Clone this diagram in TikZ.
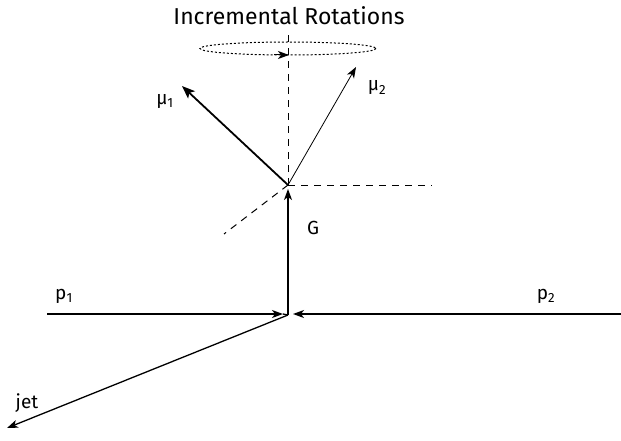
\documentclass[tikz,border=0pt]{standalone}
\usepackage{fontspec}
\setmainfont{Fira Sans}
\usetikzlibrary{arrows.meta}
\begin{document}
\begin{tikzpicture}[x=1pt,y=-1pt,
  vec/.style={line width=1.3pt,-{Stealth[length=11pt,width=8pt,inset=3pt]}},
  thinvec/.style={line width=0.8pt,-{Stealth[length=11pt,width=8pt,inset=3pt]}},
  thickvec/.style={line width=1.8pt,-{Stealth[length=13pt,width=10pt,inset=3pt]}},
  dashline/.style={line width=1pt,dash pattern=on 7pt off 6pt},
  lab/.style={font=\fontsize{19}{22}\selectfont, inner sep=0pt}]
\useasboundingbox (0,0) rectangle (621,441);
\coordinate (V) at (288,315);
\coordinate (O) at (288,185);
\coordinate (p1s) at (47,314);
\coordinate (p1e) at (283,314);
\coordinate (p2s) at (621,314);
\coordinate (p2e) at (293,314);
\coordinate (jetE) at (7,428);
\coordinate (Gtip) at (288,189);
\coordinate (mu1tip) at (182,86);
\coordinate (mu2tip) at (356,67);
\coordinate (dh) at (432,185);
\coordinate (dd) at (224,234);
\coordinate (dv) at (288,35);
\coordinate (E) at (288,48.5);

\node[inner sep=0pt, font=\fontsize{23}{27}\selectfont] (title) at (289,16) {Incremental Rotations};
\node[lab] (p1) at (64,296) {p\textsubscript{1}};
\node[lab] (p2) at (546,296) {p\textsubscript{2}};
\node[lab] (jet) at (27,403) {jet};
\node[lab] (G) at (313,228) {G};
\node[lab] (mu1) at (165,102) {μ\textsubscript{1}};
\node[lab] (mu2) at (377,88) {μ\textsubscript{2}};

\draw[vec] (p1s) -- (p1e);
\draw[vec] (p2s) -- (p2e);
\draw[vec] (V) -- (jetE);
\draw[line width=1.3pt] (p1e) -- (V);
\draw[vec] (V) -- (Gtip);
\draw[dashline] (O) -- (dh);
\draw[dashline] (O) -- (dd);
\draw[dashline] (O) -- (dv);
\draw[thickvec] (O) -- (mu1tip);
\draw[thinvec] (O) -- (mu2tip);
\draw[line width=1pt, dash pattern=on 2pt off 2pt] (E) ellipse [x radius=88, y radius=6.5];
\draw[line width=1pt,-{Stealth[length=11pt,width=8pt,inset=3pt]}] (274,55) -- (289,55);
\end{tikzpicture}
\end{document}
